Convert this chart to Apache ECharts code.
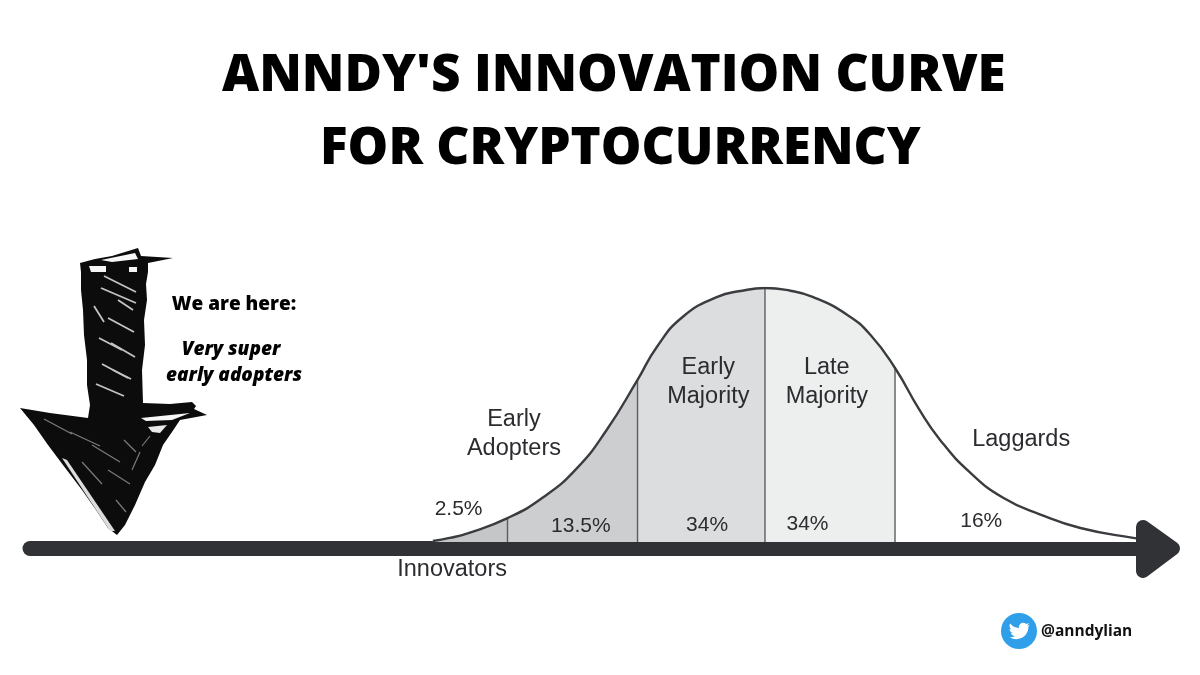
<!DOCTYPE html>
<html>
<head>
<meta charset="utf-8">
<style>html,body{margin:0;padding:0;background:#fff}#c{width:1200px;height:675px}</style>
<script src="https://cdn.jsdelivr.net/npm/echarts@6/dist/echarts.min.js"></script>
</head>
<body>
<div id="c"></div>
<script>
// Position along the adoption axis, in standard deviations from the mean
const curveX = [-2.58,-2.45,-2.31,-2.0,-1.72,-1.46,-1.23,-0.99,-0.84,-0.64,-0.37,-0.19,0,0.19,0.37,0.64,0.82,1.01,1.20,1.36,1.59,1.85,2.14,2.45,2.86,2.99];
// Curve height, as a percentage of the peak
const curveY = [0.4,1.6,3.4,9.4,17.7,29.1,44.1,63.8,76.8,88.6,96.5,98.8,100,99,96.5,89.4,81.5,68.5,52,40.2,27.5,17.4,10.8,5.5,1.6,0.8];
const dividerX = [-2,-0.99,0,1.01];
const dividerY = [9.4,63.8,100,68.5];
const segmentNames = ['Early\nAdopters','Early\nMajority','Late\nMajority','Laggards','Innovators'];
const segmentNameX = [-1.95,-0.44,0.48,1.99,-2.43];
const segmentNameY = [42.5,63,63,40.5,-11];
const shareLabels = ['2.5%','13.5%','34%','34%','16%'];
const shareX = [-2.38,-1.43,-0.45,0.33,1.68];
const shareY = [13,6.3,6.7,7,8];
const titleLine1 = "ANNDY'S INNOVATION CURVE";
const titleLine2 = "FOR CRYPTOCURRENCY";

const pairs = (a, b) => a.map((v, i) => [v, b[i]]);
const chart = echarts.init(document.getElementById('c'), null, {renderer: 'canvas'});

const dividers = dividerX.map((x, i) => ({
  type: 'line', data: [[x, 0], [x, dividerY[i]]], symbol: 'none', silent: true, z: 3,
  lineStyle: {color: '#5b5d60', width: 1.4}, clip: false
}));

// Hand-sketched arrow (decoration)
const ink = '#0c0c0c';
const white = '#f6f6f6';
const sketch = [
  {type:'polygon', z:5, shape:{points:[[80,263],[95,259],[112,256],[138,248],[141,256],[173,258],[148,263],[148,272],[146,284],[147,300],[144,320],[145,345],[142,370],[143,403],[170,404],[192,402],[196,406],[194,409],[207,415],[180,420],[172,432],[163,445],[155,465],[145,482],[135,505],[125,525],[117,535],[108,528],[96,510],[82,490],[63,465],[48,445],[34,425],[20,408],[50,413],[88,418],[90,405],[87,385],[87,360],[84,335],[83,310],[81,290],[81,272]]}, style:{fill:ink}},
  {type:'polygon', z:6, shape:{points:[[101,260],[135,253],[138,259],[112,262]]}, style:{fill:white}},
  {type:'polygon', z:6, shape:{points:[[89,266],[106,266],[106,272],[91,272]]}, style:{fill:white}},
  {type:'polygon', z:6, shape:{points:[[129,267],[137,267],[137,272],[129,272]]}, style:{fill:white}},
  {type:'polygon', z:6, shape:{points:[[141,418],[190,413],[172,420],[146,421]]}, style:{fill:white}},
  {type:'polygon', z:6, shape:{points:[[148,427],[167,425],[160,433],[152,432]]}, style:{fill:'#e9e9e9'}},
  {type:'polygon', z:6, shape:{points:[[62,458],[67,460],[115,531],[110,531]]}, style:{fill:'#dcdcdc'}}
];
[[104,276,136,292],[101,288,136,303],[94,306,104,322],[108,318,134,332],[99,338,122,350],[111,343,135,357],[102,364,128,378],[113,370,131,379],[96,384,124,396],[118,300,133,310]]
  .forEach(s => sketch.push({type:'line', z:6, shape:{x1:s[0],y1:s[1],x2:s[2],y2:s[3]}, style:{stroke:'#c4c4c4', lineWidth:1.8}}));
[[44,419,72,434],[70,432,100,446],[92,445,120,462],[108,470,130,484],[124,440,136,452],[82,462,102,484],[116,500,126,512],[140,452,132,470],[150,436,142,446]]
  .forEach(s => sketch.push({type:'line', z:6, shape:{x1:s[0],y1:s[1],x2:s[2],y2:s[3]}, style:{stroke:'#7c7c7c', lineWidth:1.2}}));

const bird = 'M23.953 4.57a10 10 0 0 1-2.825.775 4.958 4.958 0 0 0 2.163-2.723c-.951.555-2.005.959-3.127 1.184a4.92 4.92 0 0 0-8.384 4.482C7.69 8.095 4.067 6.13 1.64 3.162a4.822 4.822 0 0 0-.666 2.475c0 1.71.87 3.213 2.188 4.096a4.904 4.904 0 0 1-2.228-.616v.06a4.923 4.923 0 0 0 3.946 4.827 4.996 4.996 0 0 1-2.212.085 4.936 4.936 0 0 0 4.604 3.417 9.867 9.867 0 0 1-6.102 1.51 13.995 13.995 0 0 0 7.557 2.209c9.053 0 13.998-7.496 13.998-13.985 0-.21 0-.42-.015-.63A9.935 9.935 0 0 0 24 4.59z';

const noteFont = '"Open Sans", sans-serif';
const titleStyle = {fontFamily: noteFont, fontWeight: 800, fontSize: 51.2, color: '#000'};
const labelFont = '"Liberation Sans", Arial, sans-serif';
chart.setOption({
  animation: false,
  backgroundColor: '#ffffff',
  title: [
    {text: titleLine1, left: 222, top: 51, padding: 0, textStyle: titleStyle},
    {text: titleLine2, left: 320, top: 124, padding: 0, textStyle: titleStyle}
  ],
  grid: {left: 30, width: 1140, top: 288, height: 254},
  xAxis: {
    type: 'value', min: -5.709, max: 3.146, offset: 6,
    axisLine: {show: true, onZero: false, lineStyle: {color: '#303236', width: 15, cap: 'round'}},
    axisTick: {show: false}, axisLabel: {show: false}, splitLine: {show: false}
  },
  yAxis: {type: 'value', min: 0, max: 100, show: false, splitLine: {show: false}},
  visualMap: {
    show: false, type: 'piecewise', dimension: 0, seriesIndex: 0,
    pieces: [
      {lt: -2, color: '#c5c6c8'},
      {gte: -2, lt: -0.99, color: '#cdced0'},
      {gte: -0.99, lt: 0, color: '#dcddde'},
      {gte: 0, lt: 1.01, color: '#edeeee'},
      {gte: 1.01, color: '#ffffff'}
    ]
  },
  series: [
    {type: 'line', data: pairs(curveX, curveY), smooth: 0.5, symbol: 'none', silent: true, z: 1,
     lineStyle: {width: 0, opacity: 0}, areaStyle: {opacity: 1}},
    {type: 'line', data: pairs(curveX, curveY), smooth: 0.5, symbol: 'none', silent: true, z: 4,
     lineStyle: {color: '#3a3c3f', width: 2.4}},
    ...dividers,
    {type: 'scatter', symbolSize: 0, silent: true, clip: false, z: 7, itemStyle: {opacity: 1},
     data: segmentNames.map((n, i) => ({name: n, value: [segmentNameX[i], segmentNameY[i]]})),
     label: {show: true, position: 'inside', formatter: p => p.name, fontFamily: labelFont, fontSize: 23.5, lineHeight: 29.5, color: '#2b2c2f'}},
    {type: 'scatter', symbolSize: 0, silent: true, clip: false, z: 7, itemStyle: {opacity: 1},
     data: shareLabels.map((n, i) => ({name: n, value: [shareX[i], shareY[i]]})),
     label: {show: true, position: 'inside', formatter: p => p.name, fontFamily: labelFont, fontSize: 21, color: '#2b2c2f'}},
    {type: 'custom', coordinateSystem: 'none', silent: true, z: 20, data: [[0]],
     renderItem: () => ({type: 'path', shape: {pathData: bird, layout: 'center', x: 1009.5, y: 622, width: 20, height: 18}, style: {fill: '#fff'}})}
  ],
  graphic: [
    {type:'polygon', z:8, shape:{points:[[1143,527],[1173,548.5],[1143,571]]},
     style:{fill:'#303236', stroke:'#303236', lineWidth:14, lineJoin:'round'}},
    ...sketch,
    {type:'text', z:8, x:234, y:305, style:{text:'We are here:', fontFamily:noteFont, fontWeight:800, fontSize:19, fill:'#000', align:'center', verticalAlign:'middle'}},
    {type:'text', z:8, x:231, y:350, style:{text:'Very super', fontFamily:noteFont, fontWeight:800, fontStyle:'italic', fontSize:19, fill:'#000', align:'center', verticalAlign:'middle'}},
    {type:'text', z:8, x:234, y:376, style:{text:'early adopters', fontFamily:noteFont, fontWeight:800, fontStyle:'italic', fontSize:19, fill:'#000', align:'center', verticalAlign:'middle'}},
    {type:'circle', z:8, shape:{cx:1019, cy:631, r:18}, style:{fill:'#2f9fe9'}},
    {type:'text', z:8, x:1041, y:632, style:{text:'@anndylian', fontFamily:noteFont, fontWeight:700, fontSize:15.5, fill:'#111', align:'left', verticalAlign:'middle'}}
  ]
});
</script>
</body>
</html>
